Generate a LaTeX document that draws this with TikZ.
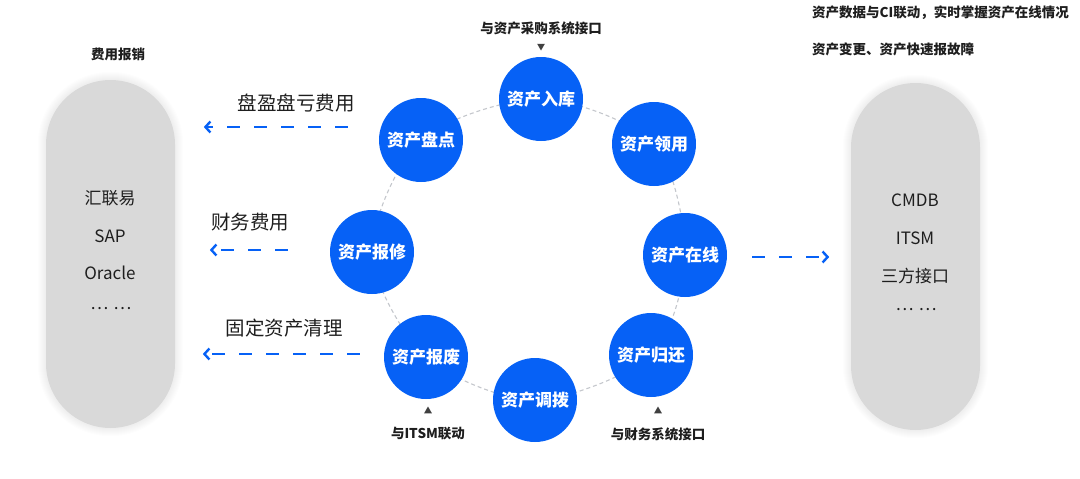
\documentclass[tikz,border=0pt]{standalone}
\usepackage{fontspec}
\setmainfont{Noto Sans CJK SC}
\definecolor{assetblue}{HTML}{0661F6}
\definecolor{pillgray}{HTML}{D9D9D9}
\definecolor{ringgray}{HTML}{C4C7CC}
\definecolor{labeltext}{HTML}{1E1E1E}
\usetikzlibrary{arrows.meta,positioning,shapes.geometric,backgrounds}
\tikzset{
    lifecycle/.style={
        circle,
        fill=assetblue,
        text=white,
        minimum size=84pt,
        inner sep=0pt,
        font=\fontsize{17}{20}\selectfont\bfseries
    },
    systempill/.style={
        fill=pillgray,
        rounded corners=64.5pt,
        minimum width=129pt,
        inner sep=0pt
    },
    pilltext/.style={
        text=labeltext,
        inner sep=0pt,
        font=\fontsize{17}{20}\selectfont
    },
    flowlabel/.style={
        text=labeltext,
        inner sep=0pt,
        font=\fontsize{19.5}{22}\selectfont
    },
    notelabel/.style={
        text=labeltext,
        inner sep=0pt,
        font=\fontsize{13.5}{16}\selectfont\bfseries
    },
    notemark/.style={
        regular polygon,
        regular polygon sides=3,
        fill=labeltext!85,
        minimum size=9pt,
        inner sep=0pt
    },
    flowarrow/.style={
        -{Straight Barb[length=5pt,width=11pt]},
        draw=assetblue,
        line width=2.4pt,
        dash pattern=on 13pt off 14pt
    },
    ringline/.style={
        draw=ringgray,
        line width=1.1pt,
        dash pattern=on 4pt off 3pt
    }
}

\begin{document}
\begin{tikzpicture}[x=1pt,y=-1pt]
        \useasboundingbox (0,0) rectangle (1080,479);

        % asset lifecycle ring
        \node[lifecycle] (rk) at (541,99) {资产入库};
        \node[lifecycle] (ly) at (654,144) {资产领用};
        \node[lifecycle] (zx) at (685,255) {资产在线};
        \node[lifecycle] (gh) at (651,355) {资产归还};
        \node[lifecycle] (db) at (535,400) {资产调拨};
        \node[lifecycle] (bf) at (426,357) {资产报废};
        \node[lifecycle] (bx) at (372,252) {资产报修};
        \node[lifecycle] (pd) at (421,140) {资产盘点};

        % outside systems
        \node[systempill,minimum height=348pt] (feepill) at (110.5,254) {};
        \node[systempill,minimum height=347pt] (syspill) at (915.5,256.5) {};

        \node[pilltext] (hly) at (110,198) {汇联易};
        \node[pilltext] (sap) at (110,236) {SAP};
        \node[pilltext] (orc) at (110,273) {Oracle};
        \node[pilltext] (lmore) at (111,309) {…\hspace{5pt}…};

        \node[pilltext] (cmdb) at (915,200) {CMDB};
        \node[pilltext] (itsm) at (915,238) {ITSM};
        \node[pilltext] (sfjk) at (915,276) {三方接口};
        \node[pilltext] (rmore) at (916,310) {…\hspace{5pt}…};

        % notes
        \node[notelabel] (feenote) at (118,54) {费用报销};
        \node[notelabel,anchor=west] (cinote) at (812,13)
            {资产数据与CI联动，实时掌握资产在线情况};
        \node[notelabel,anchor=west] (faultnote) at (812,49)
            {资产变更、资产快速报故障};

        \node[notelabel] (buynote) at (541,28) {与资产采购系统接口};
        \node[notemark,rotate=180] (buymark) at (541,46) {};
        \node[notemark] (itsmmark) at (428,411) {};
        \node[notelabel] (itsmnote) at (428,434) {与ITSM联动};
        \node[notemark] (finmark) at (658,411) {};
        \node[notelabel] (finnote) at (658,434) {与财务系统接口};

        % flows to the systems
        \node[flowlabel] (pylabel) at (296,103) {盘盈盘亏费用};
        \node[flowlabel] (cwlabel) at (250,222) {财务费用};
        \node[flowlabel] (qllabel) at (284,328) {固定资产清理};

        \draw[flowarrow] ([xshift=-31pt,yshift=13pt]pd.west) -- ++(-144,0);
        \draw[flowarrow] ([xshift=-42pt,yshift=2pt]bx.west) -- ++(-78,0);
        \draw[flowarrow] ([xshift=-24pt,yshift=3pt]bf.west) -- ++(-157,0);
        \draw[flowarrow] ([xshift=25pt,yshift=-2pt]zx.east) -- ++(77,0);

        \begin{scope}[on background layer]
            \foreach \pill in {feepill,syspill}
                \foreach \w in {2,4,...,16}
                    \draw[black,opacity=0.007,line width=\w pt,rounded corners=64.5pt]
                        (\pill.south west) rectangle (\pill.north east);
            \draw[ringline] plot[smooth cycle]
                coordinates {(rk) (ly) (zx) (gh) (db) (bf) (bx) (pd)};
        \end{scope}
    \end{tikzpicture}
\end{document}
